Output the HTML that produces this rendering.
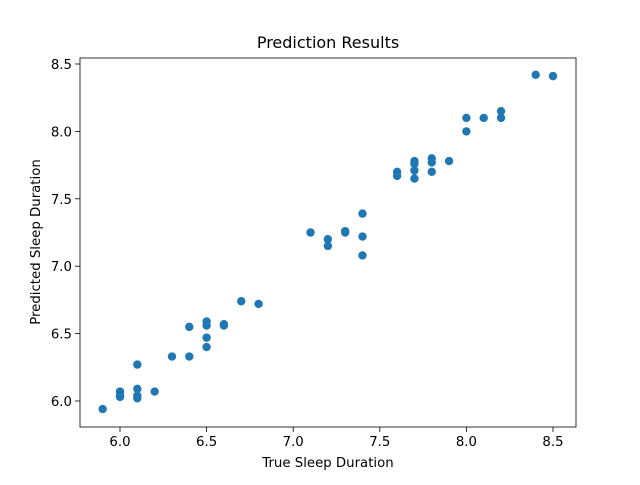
<!DOCTYPE html>
<html><head><meta charset="utf-8"><style>
body{margin:0;background:#fff}
svg text{font-family:"DejaVu Sans","Liberation Sans",sans-serif;fill:#000}
</style></head><body>
<svg id="chart" width="640" height="480">
<rect width="640" height="480" fill="#fff"/>
<text x="328" y="48" font-size="16" text-anchor="middle">Prediction Results</text>
<text x="328" y="467" font-size="13.3" text-anchor="middle">True Sleep Duration</text>
<text transform="translate(40,242) rotate(-90)" font-size="13.3" text-anchor="middle">Predicted Sleep Duration</text>
<g id="ticks"></g>
<g id="points"></g>
<rect x="80" y="58" width="496" height="369" fill="none" stroke="#000" stroke-width="0.8"/>
</svg>
<script>
const trueVals=[5.9,6.0,6.0,6.0,6.1,6.1,6.1,6.1,6.2,6.3,6.4,6.4,6.5,6.5,6.5,6.5,6.6,6.6,6.7,6.8,7.1,7.2,7.2,7.3,7.3,7.4,7.4,7.4,7.6,7.6,7.7,7.7,7.7,7.7,7.8,7.8,7.8,7.9,8.0,8.0,8.1,8.2,8.2,8.4,8.5];
const predVals=[5.94,6.07,6.04,6.03,6.27,6.09,6.04,6.02,6.07,6.33,6.55,6.33,6.59,6.56,6.47,6.40,6.57,6.56,6.74,6.72,7.25,7.20,7.15,7.26,7.25,7.39,7.22,7.08,7.70,7.67,7.78,7.76,7.71,7.65,7.80,7.77,7.70,7.78,8.10,8.00,8.10,8.15,8.10,8.42,8.41];
const xTicks=[6.0,6.5,7.0,7.5,8.0,8.5];
const yTicks=[6.0,6.5,7.0,7.5,8.0,8.5];
const NS="http://www.w3.org/2000/svg";
const xs=v=>120+(v-6.0)*173.2;
const ys=v=>401-(v-6.0)*134.8;
const tg=document.getElementById('ticks'), pg=document.getElementById('points');
function mk(tag,attrs,parent){const e=document.createElementNS(NS,tag);for(const k in attrs)e.setAttribute(k,attrs[k]);parent.appendChild(e);return e;}
xTicks.forEach(t=>{
 const l=mk('line',{x1:xs(t),x2:xs(t),y1:427,y2:432,stroke:'#000','stroke-width':0.8},tg);
 
 
 const tx=mk('text',{x:xs(t),y:446,'font-size':13.3,'text-anchor':'middle'},tg);
 tx.textContent=t.toFixed(1);
 
 
});
yTicks.forEach(t=>{
 const l=mk('line',{x1:75,x2:80,y1:ys(t),y2:ys(t),stroke:'#000','stroke-width':0.8},tg);
 
 
 const tx=mk('text',{x:72,y:ys(t)+5,'font-size':13.3,'text-anchor':'end'},tg);
 tx.textContent=t.toFixed(1);
 
 
});
trueVals.forEach((v,i)=>{
 const c=mk('circle',{cx:xs(v),cy:ys(predVals[i]),r:4.2,fill:'#1f77b4'},pg);
 
 
});
</script>
</body></html>
